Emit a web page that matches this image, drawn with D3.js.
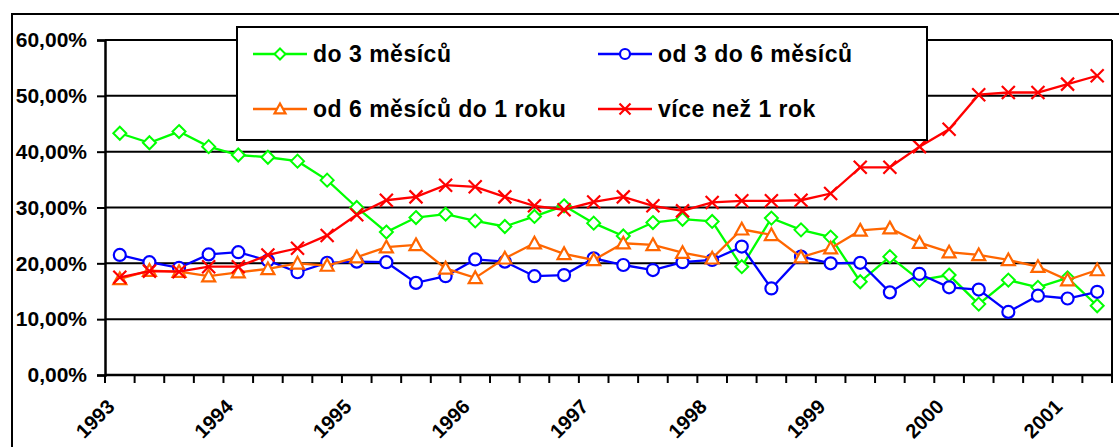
<!DOCTYPE html>
<html>
<head>
<meta charset="utf-8">
<script src="https://cdn.jsdelivr.net/npm/d3@7"></script>
<style>
  body { margin: 0; background: #fff; }
  text { font-family: "Liberation Sans", Arial, sans-serif; font-weight: bold; }
</style>
</head>
<body>
<div class="container"></div>
<script>
// Chart size
const width = 1119;
const height = 447;

// quarters 1993 Q1 .. 2001 Q2
const years = [1993, 1994, 1995, 1996, 1997, 1998, 1999, 2000, 2001];
const categories = [];
years.forEach(function(y) {
  [1, 2, 3, 4].forEach(function(q) {
    if (y < 2001 || q <= 2) categories.push(y + " Q" + q);
  });
});

const yTicks = [0, 10, 20, 30, 40, 50, 60];

// values in %
const do3 = [43.3, 41.6, 43.6, 40.9, 39.4, 39.0, 38.3, 34.9, 30.0, 25.6, 28.2, 28.8, 27.6, 26.6, 28.4, 30.3, 27.2,
  24.9, 27.3, 27.9, 27.5, 19.4, 28.1, 26.0, 24.7, 16.7, 21.2, 17.0, 17.9, 12.7, 17.0, 15.7, 17.4, 12.4];
const od3do6 = [21.5, 20.2, 19.2, 21.6, 22.0, 20.5, 18.4, 20.1, 20.3, 20.2, 16.5, 17.7, 20.7, 20.3, 17.7, 17.9, 20.9,
  19.7, 18.8, 20.2, 20.6, 23.0, 15.5, 21.2, 20.0, 20.1, 14.8, 18.1, 15.7, 15.3, 11.3, 14.2, 13.7, 14.9];
const od6do12 = [17.2, 18.7, 18.5, 17.7, 18.4, 19.0, 20.0, 19.6, 21.1, 22.9, 23.3, 19.1, 17.4, 20.9, 23.6, 21.7, 20.6,
  23.6, 23.3, 21.9, 20.9, 26.1, 25.1, 21.1, 22.7, 25.9, 26.3, 23.7, 22.0, 21.5, 20.6, 19.4, 17.0, 18.8];
const nad1rok = [17.5, 18.6, 18.5, 19.4, 19.4, 21.5, 22.7, 25.0, 28.7, 31.3, 31.9, 34.0, 33.7, 31.9, 30.3, 29.6, 31.0,
  31.9, 30.3, 29.4, 30.9, 31.2, 31.2, 31.3, 32.5, 37.2, 37.2, 40.9, 44.0, 50.2, 50.6, 50.6, 52.1, 53.6];

const series = [
  { name: "do 3 měsíců", values: do3, color: "#00ff00", marker: "diamond" },
  { name: "od 3 do 6 měsíců", values: od3do6, color: "#0000ff", marker: "circle" },
  { name: "od 6 měsíců do 1 roku", values: od6do12, color: "#ff6600", marker: "triangle" },
  { name: "více než 1 rok", values: nad1rok, color: "#ff0000", marker: "cross" }
];

const plot = { left: 105, right: 1112, top: 40, bottom: 375 };

const x = d3.scaleBand()
    .domain(categories)
    .range([plot.left, plot.right])
    .padding(0);

const y = d3.scaleLinear()
    .domain([0, 60])
    .range([plot.bottom, plot.top]);

const svg = d3.select(".container").append("svg")
    .attr("width", width)
    .attr("height", height);

// chart area border (only left and top visible)
svg.append("rect")
    .attr("x", 12).attr("y", 14)
    .attr("width", 1130).attr("height", 460)
    .attr("fill", "none")
    .attr("stroke", "#000")
    .attr("stroke-width", 2);

// gridlines
svg.append("g")
  .selectAll("line")
  .data(yTicks)
  .enter().append("line")
    .attr("x1", plot.left).attr("x2", plot.right)
    .attr("y1", d => y(d)).attr("y2", d => y(d))
    .attr("stroke", "#000")
    .attr("stroke-width", 2);

// right border of plot
svg.append("line")
    .attr("x1", plot.right).attr("x2", plot.right)
    .attr("y1", plot.top).attr("y2", plot.bottom)
    .attr("stroke", "#000").attr("stroke-width", 2);

// y axis
const yAxis = svg.append("g")
    .attr("transform", "translate(" + plot.left + ",0)")
    .call(d3.axisLeft(y)
      .tickValues(yTicks)
      .tickSize(8)
      .tickPadding(10)
      .tickFormat(d => d.toFixed(2).replace(".", ",") + "%"));
yAxis.select(".domain").attr("stroke", "#000").attr("stroke-width", 2.5);
yAxis.selectAll(".tick line").attr("stroke-width", 2);
yAxis.selectAll("text").attr("font-size", 21).attr("fill", "#000")
    .attr("font-family", "'Liberation Sans', Arial, sans-serif").attr("font-weight", "bold");

// x axis line and boundary ticks
const bounds = categories.map(c => x(c)).concat([plot.right]);
svg.append("line")
    .attr("x1", plot.left).attr("x2", plot.right)
    .attr("y1", plot.bottom).attr("y2", plot.bottom)
    .attr("stroke", "#000").attr("stroke-width", 2.5);
svg.append("g")
  .selectAll("line")
  .data(bounds)
  .enter().append("line")
    .attr("x1", d => d).attr("x2", d => d)
    .attr("y1", plot.bottom).attr("y2", plot.bottom + 8)
    .attr("stroke", "#000").attr("stroke-width", 2);

// year labels every 4th quarter
svg.append("g")
  .selectAll("text")
  .data(categories.filter((c, i) => i % 4 === 0))
  .enter().append("text")
    .attr("transform", d => "translate(" + (x(d) + x.bandwidth() / 2 - 4) + ",408) rotate(-45)")
    .attr("text-anchor", "end")
    .attr("font-size", 20)
    .attr("fill", "#000")
    .text(d => d.slice(0, 4));

// markers
function drawMarker(g, type, color, cx, cy, s) {
  if (type === "diamond") {
    g.append("path")
      .attr("d", "M" + cx + "," + (cy - s) + "L" + (cx + s) + "," + cy + "L" + cx + "," + (cy + s) + "L" + (cx - s) + "," + cy + "Z")
      .attr("fill", "#fff").attr("stroke", color).attr("stroke-width", 2);
  } else if (type === "circle") {
    g.append("circle").attr("cx", cx).attr("cy", cy).attr("r", s - 0.5)
      .attr("fill", "#fff").attr("stroke", color).attr("stroke-width", 2.2);
  } else if (type === "triangle") {
    g.append("path")
      .attr("d", "M" + cx + "," + (cy - s) + "L" + (cx + s) + "," + (cy + s * 0.8) + "L" + (cx - s) + "," + (cy + s * 0.8) + "Z")
      .attr("fill", "#fff").attr("stroke", color).attr("stroke-width", 2.2);
  } else {
    g.append("path")
      .attr("d", "M" + (cx - s) + "," + (cy - s) + "L" + (cx + s) + "," + (cy + s) + "M" + (cx + s) + "," + (cy - s) + "L" + (cx - s) + "," + (cy + s))
      .attr("stroke", color).attr("stroke-width", 2.2);
  }
}

const line = d3.line()
    .x((d, i) => x(categories[i]) + x.bandwidth() / 2)
    .y(d => y(d));

series.forEach(function(s) {
  const g = svg.append("g");
  g.append("path")
    .datum(s.values)
    .attr("d", line)
    .attr("fill", "none")
    .attr("stroke", s.color)
    .attr("stroke-width", 2.3);
  s.values.forEach(function(v, i) {
    drawMarker(g, s.marker, s.color, x(categories[i]) + x.bandwidth() / 2, y(v), 6.5);
  });
});

// legend
const legend = svg.append("g").attr("id", "legend");
legend.append("rect")
    .attr("x", 237).attr("y", 27)
    .attr("width", 690).attr("height", 113)
    .attr("fill", "#fff").attr("stroke", "#000").attr("stroke-width", 2);

const legendPos = [[253, 54], [598, 54], [253, 109], [598, 109]];
series.forEach(function(s, i) {
  const lx = legendPos[i][0], ly = legendPos[i][1];
  legend.append("line")
    .attr("x1", lx).attr("x2", lx + 54)
    .attr("y1", ly).attr("y2", ly)
    .attr("stroke", s.color).attr("stroke-width", 2.3);
  drawMarker(legend, s.marker, s.color, lx + 27, ly, 5.5);
  legend.append("text")
    .attr("x", lx + 60).attr("y", ly + 8)
    .attr("font-size", 23)
    .attr("letter-spacing", 0.5)
    .attr("fill", "#000")
    .text(s.name);
});
</script>
</body>
</html>
